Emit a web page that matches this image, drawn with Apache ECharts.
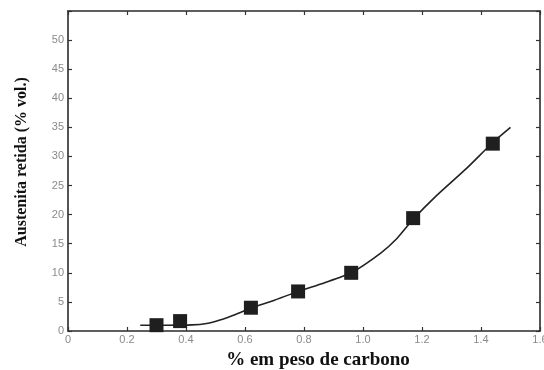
<!DOCTYPE html>
<html>
<head>
<meta charset="utf-8">
<script src="https://cdn.jsdelivr.net/npm/echarts@6/dist/echarts.min.js"></script>
<style>
  html, body { margin: 0; padding: 0; background: #fff; }
  #chart { width: 544px; height: 370px; }
</style>
</head>
<body>
<div id="chart"></div>
<script>
// Measured retained austenite vs. carbon content
const carbonPct = [0.30, 0.38, 0.62, 0.78, 0.96, 1.17, 1.44];
const austenitePct = [1.0, 1.7, 4.0, 6.8, 10.0, 19.4, 32.2];

// Trend curve through the measurements
const curveCarbon = [0.245, 0.33, 0.42, 0.47, 0.515, 0.57, 0.62, 0.70, 0.78, 0.87, 0.96, 1.06, 1.115, 1.17, 1.25, 1.35, 1.44, 1.50];
const curveAustenite = [1.0, 1.0, 1.05, 1.3, 1.9, 2.9, 3.9, 5.3, 6.8, 8.3, 10.0, 13.4, 15.9, 19.2, 23.3, 27.9, 32.4, 35.0];

const xTitle = '% em peso de carbono';
const yTitle = 'Austenita retida (% vol.)';

const chart = echarts.init(document.getElementById('chart'), null, { renderer: 'canvas' });

const frameLine = { show: true, onZero: false, lineStyle: { color: '#2a2a2a', width: 1.6 } };
const innerTicks = { show: true, inside: true, length: 4, lineStyle: { color: '#333', width: 1.2 } };
const tickFont = { color: '#8a8a8a', fontFamily: 'Liberation Sans, Arial, sans-serif', fontSize: 11 };

chart.setOption({
  animation: false,
  backgroundColor: '#ffffff',
  grid: { left: 68, right: 4, top: 11, bottom: 39, containLabel: false, outerBoundsMode: 'none' },
  xAxis: [
    {
      type: 'value', min: 0, max: 1.6, interval: 0.2, position: 'bottom',
      axisLine: frameLine, axisTick: innerTicks, splitLine: { show: false },
      axisLabel: Object.assign({ margin: 3, formatter: v => v === 0 ? '0' : v.toFixed(1) }, tickFont),
      name: xTitle, nameLocation: 'middle', nameGap: 20,
      nameTextStyle: { fontFamily: 'Liberation Serif, Times New Roman, serif', fontWeight: 'bold', fontSize: 19, color: '#111', padding: [0, 0, 0, 28] }
    },
    {
      type: 'value', min: 0, max: 1.6, interval: 0.2, position: 'top',
      axisLine: frameLine, axisTick: innerTicks, axisLabel: { show: false }, splitLine: { show: false }
    }
  ],
  yAxis: [
    {
      type: 'value', min: 0, max: 55, interval: 5, position: 'left',
      axisLine: frameLine, axisTick: innerTicks, splitLine: { show: false },
      axisLabel: Object.assign({ margin: 4, formatter: v => v > 50 ? '' : String(v) }, tickFont),
      name: yTitle, nameLocation: 'middle', nameGap: 38,
      nameTextStyle: { fontFamily: 'Liberation Serif, Times New Roman, serif', fontWeight: 'bold', fontSize: 16, color: '#111', padding: [0, 0, 0, 18] }
    },
    {
      type: 'value', min: 0, max: 55, interval: 5, position: 'right',
      axisLine: frameLine, axisTick: innerTicks, axisLabel: { show: false }, splitLine: { show: false }
    }
  ],
  series: [
    {
      type: 'line',
      data: curveCarbon.map((c, i) => [c, curveAustenite[i]]),
      smooth: 0.2,
      showSymbol: false,
      lineStyle: { color: '#222', width: 1.6 },
      z: 2
    },
    {
      type: 'scatter',
      data: carbonPct.map((c, i) => [c, austenitePct[i]]),
      symbol: 'rect',
      symbolSize: 14,
      itemStyle: { color: '#1f1f1f', opacity: 1 },
      z: 3
    }
  ]
});
</script>
</body>
</html>
